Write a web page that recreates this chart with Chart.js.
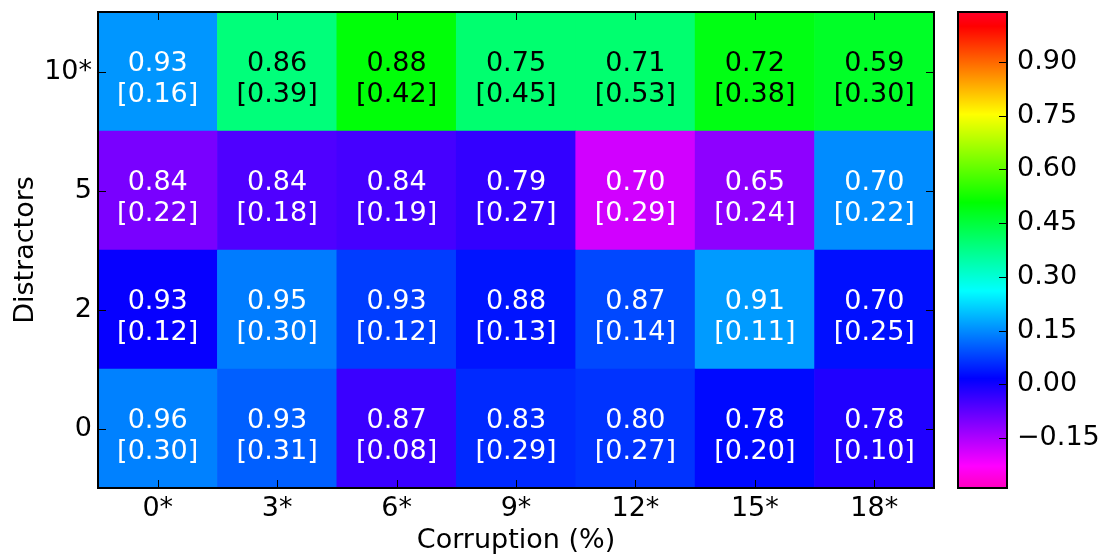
<!DOCTYPE html>
<html>
<head>
<meta charset="utf-8">
<script src="https://cdn.jsdelivr.net/npm/chart.js@4.4.1/dist/chart.umd.min.js"></script>
<style>
  html, body { margin: 0; padding: 0; background: #fff; }
  #wrap { position: relative; width: 1106px; height: 559px; }
  #heat { position: absolute; left: 0; top: 0; }
  #cbar { position: absolute; left: 945px; top: 0; }
</style>
</head>
<body>
<div id="wrap">
  <canvas id="heat" width="945" height="559"></canvas>
  <canvas id="cbar" width="161" height="559"></canvas>
</div>
<script>
// categories
var corruption = ['0*', '3*', '6*', '9*', '12*', '15*', '18*'];
var distractors = ['0', '2', '5', '10*']; // bottom to top

// first line in each cell
var acc0  = [0.96, 0.93, 0.87, 0.83, 0.80, 0.78, 0.78];
var acc2  = [0.93, 0.95, 0.93, 0.88, 0.87, 0.91, 0.70];
var acc5  = [0.84, 0.84, 0.84, 0.79, 0.70, 0.65, 0.70];
var acc10 = [0.93, 0.86, 0.88, 0.75, 0.71, 0.72, 0.59];

// bracketed value in each cell
var sd0  = [0.30, 0.31, 0.08, 0.29, 0.27, 0.20, 0.10];
var sd2  = [0.12, 0.30, 0.12, 0.13, 0.14, 0.11, 0.25];
var sd5  = [0.22, 0.18, 0.19, 0.27, 0.29, 0.24, 0.22];
var sd10 = [0.16, 0.39, 0.42, 0.45, 0.53, 0.38, 0.30];

// value behind the cell colour
var shade0  = [0.14, 0.107, -0.04, 0.055, 0.065, 0.025, -0.015];
var shade2  = [0.01, 0.135, 0.074, 0.035, 0.085, 0.165, 0.03];
var shade5  = [-0.10, -0.06, -0.05, -0.033, -0.185, -0.12, 0.15];
var shade10 = [0.16, 0.39, 0.50, 0.40, 0.40, 0.49, 0.47];

// colour bar
var cbMin = -0.29, cbMax = 1.04;
var cbTicks = [-0.15, 0.00, 0.15, 0.30, 0.45, 0.60, 0.75, 0.90];
var cbTickLabels = ['\u22120.15', '0.00', '0.15', '0.30', '0.45', '0.60', '0.75', '0.90'];

var accuracy = [acc0, acc2, acc5, acc10];
var spread = [sd0, sd2, sd5, sd10];
var shade = [shade0, shade2, shade5, shade10];

Chart.defaults.font.family = 'DejaVu Sans';
Chart.defaults.font.size = 27;
Chart.defaults.color = '#000';

// gist_rainbow reversed
var cmap = [
  [0.000, [255, 0, 191]],
  [0.046, [255, 0, 255]],
  [0.230, [0, 0, 255]],
  [0.414, [0, 255, 255]],
  [0.600, [0, 255, 0]],
  [0.785, [255, 255, 0]],
  [0.970, [255, 0, 0]],
  [1.000, [255, 0, 41]]
];

function colour(v) {
  var t = Math.max(0, Math.min(1, (v - cbMin) / (cbMax - cbMin)));
  for (var i = 1; i < cmap.length; i++) {
    if (t <= cmap[i][0]) {
      var a = cmap[i - 1], b = cmap[i];
      var f = (t - a[0]) / (b[0] - a[0]);
      var c = a[1].map(function (x, k) { return Math.round(x + (b[1][k] - x) * f); });
      return 'rgb(' + c.join(',') + ')';
    }
  }
  return 'rgb(255,0,41)';
}

function line(ctx, x1, y1, x2, y2) {
  ctx.beginPath();
  ctx.moveTo(x1, y1);
  ctx.lineTo(x2, y2);
  ctx.stroke();
}

// no extra room for half tick labels at the ends
function noEdgePad(s) {
  s.paddingTop = 0;
  s.paddingBottom = 0;
  s.paddingLeft = 0;
  s.paddingRight = 0;
}

// frame and inward ticks, matplotlib style
var frame = {
  id: 'frame',
  afterDraw: function (chart, args, opts) {
    var a = chart.chartArea, ctx = chart.ctx;
    ctx.save();
    ctx.strokeStyle = '#000';
    ctx.lineWidth = 1;
    if (opts.xTicks) {
      var xs = chart.scales.x;
      xs.ticks.forEach(function (t, i) {
        var px = Math.round(xs.getPixelForTick(i)) + 0.5;
        line(ctx, px, a.bottom, px, a.bottom - 8);
        line(ctx, px, a.top, px, a.top + 8);
      });
    }
    var ys = chart.scales.y;
    ys.ticks.forEach(function (t, i) {
      var py = Math.round(ys.getPixelForTick(i)) + 0.5;
      if (opts.leftTicks) line(ctx, a.left, py, a.left + 8, py);
      line(ctx, a.right, py, a.right - 8, py);
    });
    ctx.lineWidth = 2;
    ctx.strokeRect(a.left, a.top, a.right - a.left, a.bottom - a.top);
    ctx.restore();
  }
};

// two-line label in each cell
var cellText = {
  id: 'cellText',
  afterDatasetsDraw: function (chart) {
    var ctx = chart.ctx, xs = chart.scales.x, ys = chart.scales.y;
    ctx.save();
    ctx.font = '27px "DejaVu Sans"';
    ctx.textAlign = 'center';
    ctx.textBaseline = 'alphabetic';
    distractors.forEach(function (d, r) {
      corruption.forEach(function (c, j) {
        var x = xs.getPixelForValue(j), y = ys.getPixelForValue(r);
        ctx.fillStyle = shade[r][j] > 0.3 ? '#000' : '#fff';
        ctx.fillText(accuracy[r][j].toFixed(2), x, y - 1);
        ctx.fillText('[' + spread[r][j].toFixed(2) + ']', x, y + 30);
      });
    });
    ctx.restore();
  }
};

var datasets = distractors.map(function (d, r) {
  return {
    label: d,
    data: corruption.map(function () { return [r - 0.5, r + 0.5]; }),
    backgroundColor: shade[r].map(colour),
    borderWidth: 0,
    barPercentage: 1,
    categoryPercentage: 1,
    grouped: false
  };
});

new Chart(document.getElementById('heat').getContext('2d'), {
  type: 'bar',
  data: { labels: corruption, datasets: datasets },
  options: {
    responsive: false,
    animation: false,
    layout: { padding: { top: 12, right: 11, left: 0, bottom: 0 } },
    plugins: {
      legend: { display: false },
      tooltip: { enabled: false },
      frame: { xTicks: true, leftTicks: true }
    },
    scales: {
      x: {
        grid: { display: false, drawTicks: false },
        border: { display: false },
        ticks: { padding: 5 },
        title: { display: true, text: 'Corruption (%)', padding: { top: 0, bottom: 2 } },
        afterFit: function (s) { s.height = 71; noEdgePad(s); }
      },
      y: {
        type: 'linear',
        min: -0.5,
        max: 3.5,
        grid: { display: false, drawTicks: false },
        border: { display: false },
        afterBuildTicks: function (s) {
          s.ticks = distractors.map(function (d, i) { return { value: i }; });
        },
        ticks: {
          padding: 6,
          callback: function (v, i) { return distractors[i]; }
        },
        title: { display: true, text: 'Distractors', padding: { top: 10, bottom: 0 } },
        afterFit: function (s) { s.width = 98; noEdgePad(s); }
      }
    }
  },
  plugins: [cellText, frame]
});

// colour bar
new Chart(document.getElementById('cbar').getContext('2d'), {
  type: 'bar',
  data: {
    labels: [''],
    datasets: [{
      data: [[cbMin, cbMax]],
      borderWidth: 0,
      barPercentage: 1,
      categoryPercentage: 1,
      backgroundColor: function (c) {
        var ch = c.chart;
        if (!ch.chartArea) return 'rgba(0,0,0,0)';
        var ys = ch.scales.y;
        var g = ch.ctx.createLinearGradient(0, ys.getPixelForValue(cbMin), 0, ys.getPixelForValue(cbMax));
        cmap.forEach(function (s) {
          g.addColorStop(s[0], 'rgb(' + s[1].join(',') + ')');
        });
        return g;
      }
    }]
  },
  options: {
    responsive: false,
    animation: false,
    layout: { padding: { top: 12, left: 13, right: 0, bottom: 71 } },
    plugins: {
      legend: { display: false },
      tooltip: { enabled: false },
      frame: { xTicks: false, leftTicks: false }
    },
    scales: {
      x: { display: false },
      y: {
        position: 'right',
        min: cbMin,
        max: cbMax,
        grid: { display: false, drawTicks: false },
        border: { display: false },
        afterBuildTicks: function (s) {
          s.ticks = cbTicks.map(function (v) { return { value: v }; });
        },
        ticks: {
          padding: 10,
          callback: function (v, i) { return cbTickLabels[i]; }
        },
        afterFit: function (s) { s.width = 99; noEdgePad(s); }
      }
    }
  },
  plugins: [frame]
});
</script>
</body>
</html>
